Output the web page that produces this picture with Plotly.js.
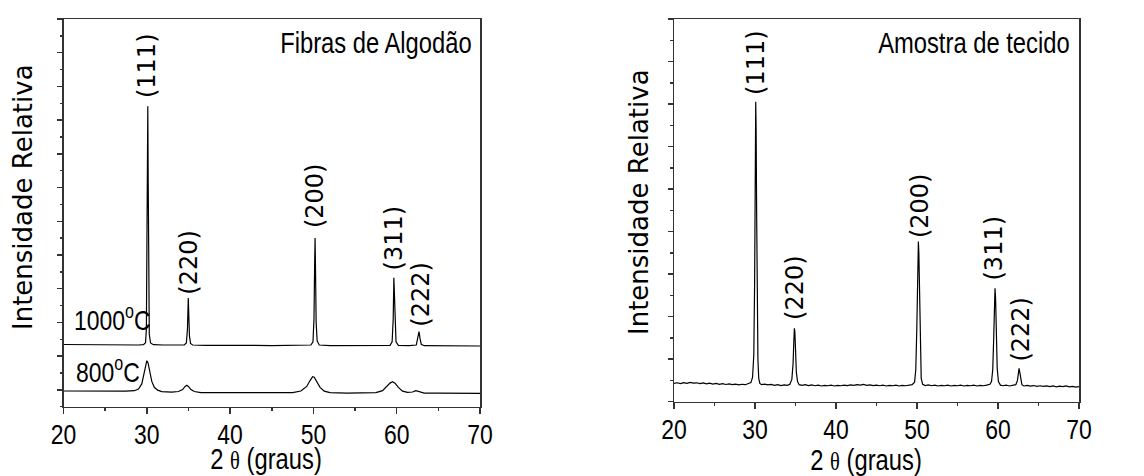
<!DOCTYPE html>
<html>
<head>
<meta charset="utf-8">
<script src="https://cdn.plot.ly/plotly-3.0.1.min.js"></script>
<style>html,body{margin:0;padding:0;background:#fff;}</style>
</head>
<body>
<div id="chart" style="width:1144px;height:476px;"></div>
<script>
// ---------- data ----------
const peakLabels = ['(111)', '(220)', '(200)', '(311)', '(222)'];
const panelTitles = ['Fibras de Algodão', 'Amostra de tecido'];
const seriesNames = ['1000<sup>o</sup>C', '800<sup>o</sup>C'];
const xTitle = '2 <span style="font-family:\'Liberation Serif\',\'Times New Roman\',serif;font-size:25px">θ</span> (graus)';
const yTitle = 'Intensidade Relativa';

// Left panel: cotton fibres, 1000 °C
const x1000 = [20.0,21.5,23.0,24.5,26.0,27.5,29.0,29.6,29.85,29.95,30.02,30.08,30.12,30.16,30.22,30.3,30.45,30.8,
  32.0,33.5,34.5,34.75,34.88,34.98,35.04,35.12,35.25,35.5,37,39,41,43,45,47,49,49.7,49.95,50.07,50.15,50.2,50.25,50.33,50.45,50.7,
  52,54,56,58,59.2,59.45,59.58,59.66,59.72,59.8,59.92,60.2,61.5,62.35,62.55,62.68,62.8,62.95,63.3,65,67,69,70];
const y1000 = [3.69,3.68,3.70,3.67,3.68,3.67,3.66,3.68,3.80,4.6,8.5,15.5,17.83,14.0,7.0,4.3,3.78,3.68,
  3.66,3.65,3.66,3.78,4.6,6.45,5.6,4.2,3.75,3.66,3.64,3.65,3.63,3.64,3.62,3.63,3.63,3.66,3.85,5.2,8.5,10.0,8.3,5.0,3.9,3.66,
  3.62,3.63,3.61,3.62,3.64,3.85,5.2,7.65,6.9,4.8,3.85,3.64,3.62,3.66,4.05,4.45,4.05,3.70,3.62,3.61,3.61,3.60,3.60];

// Left panel: cotton fibres, 800 °C
const x800 = [20,21.5,23,24.5,26,27.5,28.5,29.0,29.4,29.7,29.9,30.0,30.15,30.35,30.6,30.9,31.3,31.8,33.0,33.8,34.3,34.6,34.8,35.0,35.3,35.7,36.5,
  38,40,42,44,46,47.5,48.5,49.2,49.6,49.9,50.1,50.4,50.8,51.3,52,54,56,57.5,58.3,58.8,59.2,59.5,59.8,60.2,60.7,61.3,61.9,62.3,62.7,63.3,65,67,70];
const y800 = [0.93,0.92,0.92,0.91,0.91,0.92,0.95,1.05,1.35,2.1,2.6,2.73,2.6,2.1,1.5,1.15,0.98,0.90,0.87,0.90,1.02,1.2,1.27,1.2,1.02,0.90,0.84,
  0.83,0.83,0.82,0.82,0.82,0.84,0.93,1.2,1.55,1.78,1.75,1.5,1.15,0.92,0.84,0.81,0.81,0.84,0.95,1.2,1.4,1.48,1.4,1.15,0.92,0.85,0.87,0.95,0.88,0.81,0.80,0.79,0.79];

// Right panel: fabric sample
const xTec = [20.0,20.4,20.8,21.2,21.6,22.0,22.4,22.8,23.2,23.6,24.0,24.4,24.8,25.2,25.6,26.0,26.4,26.8,27.2,27.6,28.0,28.4,28.8,29.2,
  29.5,29.7,29.85,29.95,30.03,30.09,30.14,30.2,30.28,30.36,30.46,30.6,30.8,31.2,31.6,32.0,32.4,32.8,33.2,33.6,34.0,
  34.3,34.55,34.7,34.8,34.86,34.92,35.0,35.1,35.25,35.45,35.8,36.2,36.6,37.0,37.4,37.8,38.2,38.6,39.0,39.4,39.8,
  40.2,40.6,41.0,41.4,41.8,42.2,42.6,43.0,43.4,43.8,44.2,44.6,45.0,45.4,45.8,46.2,46.6,47.0,47.4,47.8,48.2,48.6,49.0,
  49.4,49.7,49.85,49.98,50.08,50.17,50.23,50.3,50.4,50.52,50.7,51.0,51.4,51.8,52.2,52.6,53.0,53.4,53.8,54.2,54.6,
  55.0,55.4,55.8,56.2,56.6,57.0,57.4,57.8,58.2,58.6,59.0,59.2,59.35,59.47,59.57,59.63,59.7,59.78,59.9,60.05,60.3,
  60.6,61.0,61.4,61.8,62.2,62.4,62.52,62.6,62.68,62.8,62.95,63.2,63.6,64.0,64.4,64.8,65.2,65.6,66.0,66.4,66.8,
  67.2,67.6,68.0,68.4,68.8,69.2,69.6,70.0];
const yTec = [0.86,0.89,0.85,0.90,0.86,0.91,0.87,0.89,0.85,0.88,0.84,0.87,0.83,0.86,0.82,0.85,0.81,0.84,0.80,0.83,0.79,0.82,0.80,0.84,
  0.90,1.15,2.2,5.5,11.0,14.11,12.8,9.0,4.5,2.0,1.1,0.86,0.80,0.83,0.79,0.81,0.77,0.80,0.76,0.79,0.77,
  0.82,1.05,1.8,2.9,3.45,3.3,2.5,1.4,0.95,0.80,0.77,0.80,0.76,0.79,0.75,0.78,0.74,0.77,0.75,0.78,0.74,
  0.77,0.75,0.78,0.76,0.79,0.77,0.80,0.78,0.81,0.77,0.79,0.76,0.78,0.75,0.78,0.74,0.77,0.75,0.78,0.74,0.77,0.75,0.78,
  0.80,0.92,1.5,3.5,6.2,7.53,7.0,5.0,2.3,1.1,0.82,0.76,0.79,0.75,0.78,0.74,0.77,0.75,0.78,0.74,0.77,
  0.75,0.78,0.74,0.77,0.75,0.78,0.74,0.77,0.75,0.78,0.82,0.95,1.5,3.0,4.8,5.33,4.9,3.5,1.6,0.95,0.78,
  0.75,0.78,0.74,0.77,0.80,1.0,1.4,1.57,1.4,1.0,0.80,0.74,0.77,0.73,0.76,0.72,0.75,0.72,0.74,0.71,0.74,
  0.70,0.73,0.71,0.74,0.70,0.72,0.69,0.71];

// peak label anchor points (data coords): x of peak, y just above the peak top
const leftLabelX  = [30.1, 35.05, 50.2, 59.7, 62.9];
const leftLabelY  = [18.2, 6.55, 10.45, 7.95, 4.65];
const rightLabelX = [30.1, 35.0, 50.3, 59.55, 62.8];
const rightLabelY = [14.35, 3.75, 7.6, 5.6, 1.8];

// ---------- styling ----------
const NARROW = "'Liberation Sans',Arial,Helvetica,sans-serif";   // horizontally condensed after drawing
const WIDE = "'DejaVu Sans',Verdana,sans-serif";
const CONDENSE = 0.82;
const AX = '#333';
const W = 1144, H = 476;

function xax(domain, anchor) {
  return {
    domain: domain, anchor: anchor, range: [20, 70], tick0: 20, dtick: 10,
    ticks: 'outside', ticklen: 6, tickwidth: 1.5, tickcolor: AX,
    showline: true, linecolor: AX, linewidth: 1.5, mirror: true,
    showgrid: false, zeroline: false, fixedrange: true,
    tickfont: {family: NARROW, size: 28, color: '#000'},
    minor: {dtick: 5, ticks: 'outside', ticklen: 3, tickwidth: 1.5, tickcolor: AX, showgrid: false}
  };
}
function yax(domain, anchor, range, tick0) {
  return {
    domain: domain, anchor: anchor, range: range, tick0: tick0, dtick: 2,
    ticks: 'outside', ticklen: 5, tickwidth: 1.5, tickcolor: AX,
    showline: true, linecolor: AX, linewidth: 1.5, mirror: true,
    showgrid: false, zeroline: false, showticklabels: false, fixedrange: true,
    minor: {dtick: 1, ticks: 'outside', ticklen: 2.5, tickwidth: 1.5, tickcolor: AX, showgrid: false}
  };
}

const line = {color: '#000', width: 1.2};
const traces = [
  {x: x1000, y: y1000, xaxis: 'x', yaxis: 'y', mode: 'lines', line: line, name: '1000 °C', hoverinfo: 'skip'},
  {x: x800, y: y800, xaxis: 'x', yaxis: 'y', mode: 'lines', line: line, name: '800 °C', hoverinfo: 'skip'},
  {x: xTec, y: yTec, xaxis: 'x2', yaxis: 'y2', mode: 'lines', line: line, name: 'tecido', hoverinfo: 'skip'}
];

const annotations = [];
peakLabels.forEach((t, i) => {
  annotations.push({xref: 'x', yref: 'y', x: leftLabelX[i], y: leftLabelY[i], text: t, textangle: -90,
    showarrow: false, xanchor: 'center', yanchor: 'bottom', font: {family: WIDE, size: 24, color: '#000'}});
  annotations.push({xref: 'x2', yref: 'y2', x: rightLabelX[i], y: rightLabelY[i], text: t, textangle: -90,
    showarrow: false, xanchor: 'center', yanchor: 'bottom', font: {family: WIDE, size: 24, color: '#000'}});
});
// panel titles
annotations.push({xref: 'paper', yref: 'paper', x: 474 / W, y: 1 - 43 / H, text: panelTitles[0], showarrow: false,
  xanchor: 'right', yanchor: 'middle', font: {family: NARROW, size: 29, color: '#000'}});
annotations.push({xref: 'paper', yref: 'paper', x: 1072 / W, y: 1 - 43 / H, text: panelTitles[1], showarrow: false,
  xanchor: 'right', yanchor: 'middle', font: {family: NARROW, size: 29, color: '#000'}});
// series labels
annotations.push({xref: 'paper', yref: 'paper', x: 72 / W, y: 1 - 318 / H, text: seriesNames[0], showarrow: false,
  xanchor: 'left', yanchor: 'middle', font: {family: NARROW, size: 28, color: '#000'}});
annotations.push({xref: 'paper', yref: 'paper', x: 74 / W, y: 1 - 370 / H, text: seriesNames[1], showarrow: false,
  xanchor: 'left', yanchor: 'middle', font: {family: NARROW, size: 28, color: '#000'}});
// axis titles
annotations.push({xref: 'paper', yref: 'paper', x: 266 / W, y: 1 - 459 / H, text: xTitle, showarrow: false,
  xanchor: 'center', yanchor: 'middle', font: {family: NARROW, size: 29, color: '#000'}});
annotations.push({xref: 'paper', yref: 'paper', x: 866 / W, y: 1 - 460 / H, text: xTitle, showarrow: false,
  xanchor: 'center', yanchor: 'middle', font: {family: NARROW, size: 29, color: '#000'}});
annotations.push({xref: 'paper', yref: 'paper', x: 23 / W, y: 1 - 197 / H, text: yTitle, showarrow: false, textangle: -90,
  xanchor: 'center', yanchor: 'middle', font: {family: WIDE, size: 26, color: '#000'}});
annotations.push({xref: 'paper', yref: 'paper', x: 639 / W, y: 1 - 202 / H, text: yTitle, showarrow: false, textangle: -90,
  xanchor: 'center', yanchor: 'middle', font: {family: WIDE, size: 26, color: '#000'}});

const layout = {
  width: W, height: H, margin: {l: 0, r: 0, t: 0, b: 0},
  paper_bgcolor: '#fff', plot_bgcolor: '#fff', showlegend: false,
  xaxis: xax([63.5 / W, 480 / W], 'y'),
  yaxis: yax([1 - 406.7 / H, 1 - 19 / H], 'x', [0, 23], 1),
  xaxis2: xax([674 / W, 1079 / W], 'y2'),
  yaxis2: yax([1 - 401.7 / H, 1 - 19 / H], 'x2', [0, 18], 0),
  annotations: annotations
};

// Narrow (Arial Narrow-like) look: squeeze the Liberation Sans texts horizontally about their anchor
function squeeze(el, pivotMode, dy) {
  const bb = el.getBBox();
  if (!bb.width) return;
  const px = pivotMode === 'left' ? bb.x : pivotMode === 'right' ? bb.x + bb.width : bb.x + bb.width / 2;
  const tr = el.getAttribute('transform') || '';
  el.setAttribute('transform', tr + ' translate(' + px + ',' + (dy || 0) + ') scale(' + CONDENSE + ',1) translate(' + (-px) + ',0)');
}

Plotly.newPlot('chart', traces, layout, {staticPlot: true, displayModeBar: false}).then(gd => {
  gd.querySelectorAll('.xtick text, .x2tick text').forEach(t => squeeze(t, 'center', -4));
  const groups = gd.querySelectorAll('.annotation');
  groups.forEach((g, i) => {
    const a = annotations[i];
    if (!a || a.font.family !== NARROW) return;
    const t = g.querySelector('text.annotation-text');
    if (t) squeeze(t, a.xanchor, 0);
  });
});
</script>
</body>
</html>
